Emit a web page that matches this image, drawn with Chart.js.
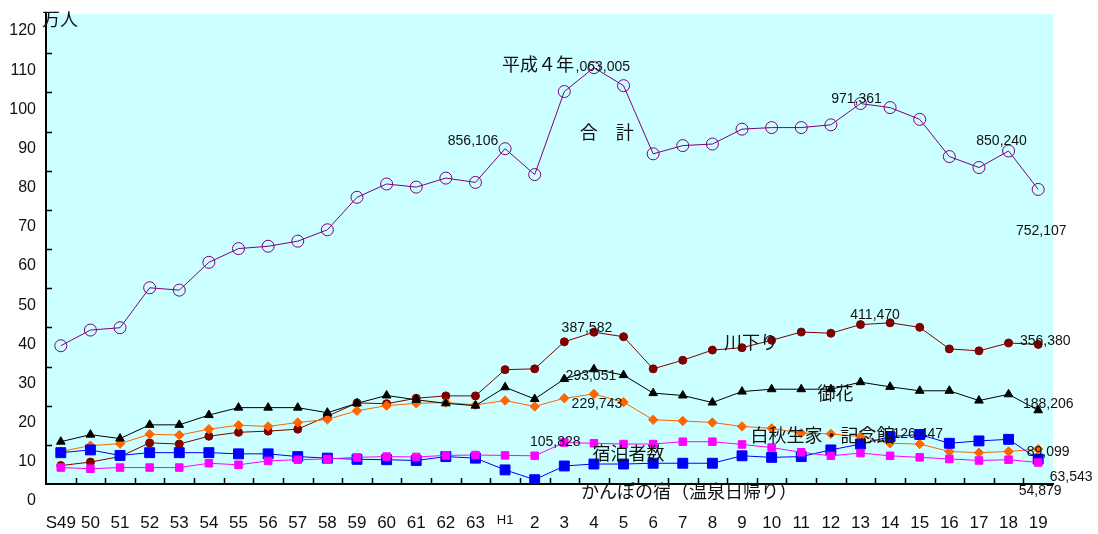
<!DOCTYPE html>
<html>
<head>
<meta charset="utf-8">
<title>観光入込客数の推移</title>
<script src="https://cdn.jsdelivr.net/npm/chart.js@4.4.1/dist/chart.umd.min.js"></script>
<style>
  html, body { margin: 0; padding: 0; background: #ffffff; }
  #wrap { width: 1098px; height: 534px; }
</style>
</head>
<body>
<div id="wrap"><canvas id="chart" width="1098" height="534"></canvas></div>
<script>
// 年次（昭和49年〜平成19年）
const years = ['S49','50','51','52','53','54','55','56','57','58','59','60','61','62','63',
               'H1','2','3','4','5','6','7','8','9','10','11','12','13','14','15','16','17','18','19'];

// 縦軸の目盛（万人）
const yTickValues = [0, 10, 20, 30, 40, 50, 60, 70, 80, 90, 100, 110, 120];

// 入込客数（万人）
const total      = [35.3, 39.3, 39.9, 50.1, 49.5, 56.6, 60.1, 60.7, 62.0, 64.9, 73.2, 76.6, 75.8, 78.1, 77.0,
                    85.6106, 79.0, 100.2, 106.3005, 101.7, 84.3, 86.4, 86.8, 90.6, 91.0, 91.0, 91.7, 97.1361,
                    96.1, 93.1, 83.6, 80.8, 85.024, 75.2107];
const kawakudari = [4.7, 5.6, 7.0, 10.5, 10.2, 12.2, 13.2, 13.5, 14.0, 17.3, 20.7, 20.5, 21.9, 22.5, 22.5,
                    29.2, 29.4, 36.3, 38.7582, 37.6, 29.4, 31.6, 34.2, 34.8, 36.7, 38.8, 38.5, 40.7,
                    41.147, 40.0, 34.5, 34.0, 36.0, 35.638];
const ohana      = [10.8, 12.6, 11.6, 15.1, 15.1, 17.6, 19.5, 19.5, 19.5, 18.2, 20.6, 22.6, 21.5, 20.6, 20.0,
                    24.7, 21.7, 26.8, 29.3051, 27.8, 23.2, 22.6, 20.8, 23.6, 24.2, 24.2, 24.2, 26.0,
                    24.8, 23.8, 23.8, 21.3, 22.9, 18.8206];
const hakushu    = [8.3, 9.8, 10.3, 12.7, 12.5, 14.0, 15.0, 14.7, 15.7, 16.5, 18.7, 20.0, 20.6, 20.8, 20.2,
                    21.3, 19.8, 21.9, 22.9743, 20.9, 16.4, 16.1, 15.7, 14.7, 14.2, 13.0, 12.8, 12.1,
                    10.4, 10.2, 8.3, 8.0, 8.3, 8.9099];
const lodging    = [4.2, 3.9, 4.2, 4.2, 4.2, 5.3, 4.9, 5.9, 6.2, 6.4, 6.8, 7.0, 6.9, 7.3, 7.4,
                    7.3, 7.2, 10.5828, 10.4, 10.2, 10.2, 10.8, 10.8, 10.1, 9.3, 8.1, 7.2, 7.9,
                    7.2, 6.8, 6.4, 6.0, 6.2, 5.4879];
const kanpo      = [8.0, 8.7, 7.3, 8.0, 8.0, 8.0, 7.7, 7.7, 7.0, 6.6, 6.3, 6.2, 6.0, 7.0, 6.6,
                    3.6, 1.1, 4.6, 5.1, 5.1, 5.3, 5.3, 5.3, 7.2, 6.8, 7.0, 8.7, 10.2,
                    12.1, 12.6447, 10.4, 11.0, 11.4, 6.3543];

const NUM_FONT = '"Liberation Sans", Arial, sans-serif';
const JP_FONT = '"Noto Sans CJK JP", "Noto Sans", sans-serif';
const PLOT_BG = '#CCFFFF';

// 人数表示（万人 → 人）
const fmt = v => Math.round(v * 10000).toLocaleString('en-US');

// 数値の注記: 系列・年次・点からのずれ（px）
const valueNotes = [
  { series: total, at: 15, dx: -32, dy: -8 },
  { series: total, at: 18, dx: 5, dy: -1 },
  { series: total, at: 27, dx: -4, dy: -4 },
  { series: total, at: 32, dx: -7, dy: -10 },
  { series: total, at: 33, dx: 3, dy: 42 },
  { series: kawakudari, at: 18, dx: -7, dy: -4 },
  { series: kawakudari, at: 28, dx: -15, dy: -8 },
  { series: kawakudari, at: 33, dx: 7, dy: -3 },
  { series: ohana, at: 18, dx: -3, dy: 7 },
  { series: ohana, at: 33, dx: 10, dy: -6 },
  { series: hakushu, at: 18, dx: 3, dy: 10 },
  { series: hakushu, at: 33, dx: 10, dy: 3 },
  { series: lodging, at: 17, dx: -9, dy: 0 },
  { series: lodging, at: 33, dx: 2, dy: 29 },
  { series: kanpo, at: 29, dx: -2, dy: 0 },
  { series: kanpo, at: 33, dx: 33, dy: 18 }
];

// 系列名などの注記（横位置は年次の位置、縦位置は万人）
const textNotes = [
  { text: '合　計', at: 18.43, value: 89.8 },
  { text: '平成４年', at: 16.11, value: 107.3, mask: true },
  { text: '川下り', at: 23.30, value: 36.3 },
  { text: '御花', at: 26.16, value: 23.2 },
  { text: '白秋生家・記念館', at: 25.72, value: 12.4 },
  { text: '宿泊者数', at: 19.17, value: 7.9 },
  { text: 'かんぽの宿（温泉日帰り）', at: 21.21, value: -1.9 }
];

// 描画領域の背景
const plotBackground = {
  id: 'plotBackground',
  beforeDraw(chart) {
    const { ctx, chartArea: a } = chart;
    ctx.save();
    ctx.fillStyle = PLOT_BG;
    ctx.fillRect(a.left, a.top, a.right - a.left, a.bottom - a.top);
    ctx.restore();
  }
};

// 軸の内向き目盛線（上下端を除く）
const innerTicks = {
  id: 'innerTicks',
  beforeDatasetsDraw(chart) {
    const { ctx, chartArea: a, scales: { x, y } } = chart;
    const yMax = yTickValues[yTickValues.length - 1];
    ctx.save();
    ctx.strokeStyle = '#000';
    ctx.lineWidth = 1.5;
    ctx.beginPath();
    yTickValues.forEach(v => {
      if (v === 0 || v === yMax) return;
      const py = Math.round(y.getPixelForValue(v)) + 0.5;
      ctx.moveTo(a.left, py);
      ctx.lineTo(a.left + 6, py);
    });
    for (let i = 1; i < years.length; i++) {
      const px = Math.round((x.getPixelForValue(i - 1) + x.getPixelForValue(i)) / 2) + 0.5;
      ctx.moveTo(px, a.bottom);
      ctx.lineTo(px, a.bottom - 6);
    }
    ctx.stroke();
    ctx.restore();
  }
};

// 注記の文字
const notes = {
  id: 'notes',
  afterDatasetsDraw(chart) {
    const { ctx, chartArea: a, scales: { x, y } } = chart;
    ctx.save();
    ctx.fillStyle = '#111';
    ctx.textAlign = 'center';
    ctx.textBaseline = 'middle';

    ctx.font = '14px ' + NUM_FONT;
    valueNotes.forEach(n => {
      const v = n.series[n.at];
      ctx.fillText(fmt(v), x.getPixelForValue(n.at) + n.dx, y.getPixelForValue(v) + n.dy);
    });

    ctx.font = '18px ' + JP_FONT;
    textNotes.forEach(n => {
      const px = x.getPixelForValue(n.at);
      const py = y.getPixelForValue(n.value);
      if (n.mask) {
        const w = ctx.measureText(n.text).width;
        ctx.fillStyle = PLOT_BG;
        ctx.fillRect(px - w / 2 - 1, py - 10, w + 2, 20);
        ctx.fillStyle = '#111';
      }
      ctx.fillText(n.text, px, py);
    });

    // 単位
    ctx.textAlign = 'left';
    ctx.fillText('万人', a.left - 4, a.top + 5);
    ctx.restore();
  }
};

const lineStyle = (label, data, color, pointStyle, radius, hollow) => ({
  label,
  data,
  borderColor: color,
  borderWidth: 1,
  backgroundColor: color,
  pointStyle,
  pointRadius: radius,
  pointBorderWidth: 1,
  pointBorderColor: color,
  pointBackgroundColor: hollow ? 'rgba(0,0,0,0)' : color,
  tension: 0,
  fill: false
});

// 軸ラベルのはみ出し分の余白は使わず、レイアウトの余白で配置する
const noScalePadding = scale => {
  scale.paddingTop = 0;
  scale.paddingBottom = 0;
  scale.paddingLeft = 0;
  scale.paddingRight = 0;
};

new Chart(document.getElementById('chart'), {
  type: 'line',
  data: {
    labels: years,
    datasets: [
      lineStyle('合計', total, '#800080', 'circle', 6, true),
      lineStyle('宿泊者数', lodging, '#FF00FF', 'rect', 5.3, false),
      lineStyle('かんぽの宿（温泉日帰り）', kanpo, '#0000FF', 'rect', 7, false),
      lineStyle('御花', ohana, '#000000', 'triangle', 5, false),
      lineStyle('白秋生家・記念館', hakushu, '#FF6600', 'rectRot', 4.7, false),
      lineStyle('川下り', kawakudari, '#800000', 'circle', 4, false)
    ]
  },
  options: {
    responsive: false,
    animation: false,
    devicePixelRatio: 1,
    events: [],
    layout: { padding: { left: 0, top: 14, right: 45, bottom: 0 } },
    plugins: {
      legend: { display: false },
      title: { display: false },
      tooltip: { enabled: false }
    },
    scales: {
      x: {
        type: 'category',
        offset: true,
        grid: { display: false, drawTicks: false },
        border: { display: true, color: '#000', width: 2 },
        ticks: {
          autoSkip: false,
          maxRotation: 0,
          minRotation: 0,
          padding: 29,
          color: '#111',
          font: ctx => ctx.index === 15
            ? { family: NUM_FONT, size: 13 }
            : { family: NUM_FONT, size: 17 }
        },
        afterFit(scale) { scale.height = 50; noScalePadding(scale); }
      },
      y: {
        min: 0,
        max: 120,
        grid: { display: false, drawTicks: false },
        border: { display: true, color: '#000', width: 2 },
        ticks: {
          stepSize: 10,
          padding: 10,
          labelOffset: 17,
          color: '#111',
          font: { family: NUM_FONT, size: 16 },
          callback: v => String(v)
        },
        afterFit(scale) { scale.width = 46; noScalePadding(scale); }
      }
    }
  },
  plugins: [plotBackground, innerTicks, notes]
});
</script>
</body>
</html>
